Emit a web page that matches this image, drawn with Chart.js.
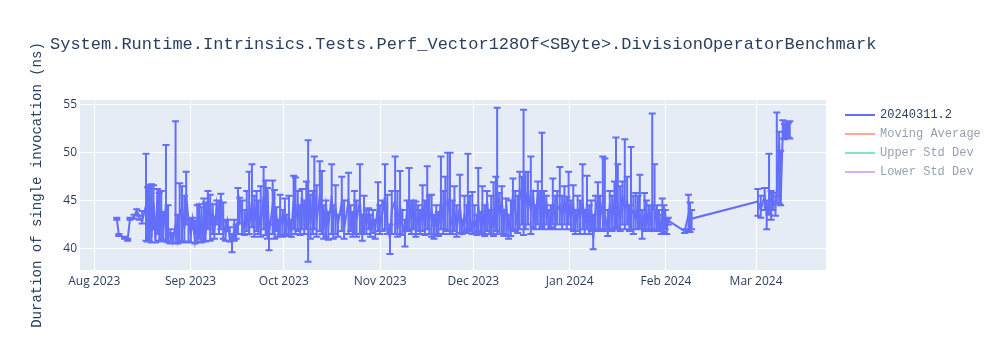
<!DOCTYPE html>
<html>
<head>
<meta charset="utf-8">
<script src="https://cdn.jsdelivr.net/npm/chart.js@4.4.1/dist/chart.umd.min.js"></script>
<style>
    body { margin: 0; background: #fff; }
    #wrap { position: relative; width: 1000px; height: 350px; }
    #title { position: absolute; left: 50px; top: 35px; line-height: 20px; font-size: 17px; font-family: 'Liberation Mono', monospace; color: #2a3f5f; white-space: pre; }
    #legend { position: absolute; left: 845px; top: 105px; font-size: 12px; font-family: 'Liberation Mono', monospace; color: #2a3f5f; }
    .item { height: 19px; display: flex; align-items: center; white-space: pre; }
    .swatch { width: 30px; height: 2px; margin-right: 5px; }
</style>
</head>
<body>
<div id="wrap">
    <canvas id="chart" width="1000" height="350"></canvas>
    <div id="title">System.Runtime.Intrinsics.Tests.Perf_Vector128Of&lt;SByte&gt;.DivisionOperatorBenchmark</div>
    <div id="legend"></div>
</div>
<script>
// Run times (local time, hour precision)
const runTimes = [
    '2023-08-08T06','2023-08-08T22','2023-08-10T18','2023-08-11T18','2023-08-12T12','2023-08-13T20','2023-08-14T16','2023-08-15T12','2023-08-16T10','2023-08-17T16',
    '2023-08-18T04','2023-08-18T18','2023-08-19T10','2023-08-20T02','2023-08-20T16','2023-08-21T08','2023-08-21T22','2023-08-22T14','2023-08-23T06','2023-08-24T02',
    '2023-08-24T18','2023-08-25T12','2023-08-26T06','2023-08-27T04','2023-08-27T20','2023-08-28T12','2023-08-29T06','2023-08-30T00','2023-08-30T14','2023-08-31T08',
    '2023-09-01T02','2023-09-01T16','2023-09-02T10','2023-09-03T04','2023-09-03T18','2023-09-04T12','2023-09-05T06','2023-09-05T20','2023-09-06T14','2023-09-07T08',
    '2023-09-08T02','2023-09-08T16','2023-09-09T10','2023-09-10T04','2023-09-10T18','2023-09-11T12','2023-09-12T06','2023-09-12T20','2023-09-13T14','2023-09-14T08',
    '2023-09-15T02','2023-09-15T16','2023-09-16T06','2023-09-16T20','2023-09-17T14','2023-09-18T08','2023-09-19T02','2023-09-19T20','2023-09-20T18','2023-09-21T12',
    '2023-09-22T06','2023-09-22T20','2023-09-23T14','2023-09-24T12','2023-09-25T04','2023-09-25T18','2023-09-26T06','2023-09-27T10','2023-09-28T00','2023-09-28T14',
    '2023-09-29T06','2023-09-29T20','2023-09-30T14',
    '2023-10-01T08','2023-10-01T22','2023-10-02T16','2023-10-03T10','2023-10-04T04','2023-10-04T18','2023-10-05T12','2023-10-06T06','2023-10-06T20','2023-10-07T14',
    '2023-10-08T06','2023-10-08T20','2023-10-09T14','2023-10-10T08','2023-10-10T20','2023-10-11T14','2023-10-12T14','2023-10-13T06','2023-10-13T20','2023-10-14T14',
    '2023-10-15T08','2023-10-16T10','2023-10-16T22','2023-10-17T16','2023-10-18T10','2023-10-19T16','2023-10-20T10','2023-10-21T20','2023-10-22T12','2023-10-23T04',
    '2023-10-23T18','2023-10-24T10','2023-10-25T12','2023-10-26T06','2023-10-26T20','2023-10-27T14','2023-10-28T08','2023-10-28T22','2023-10-29T16','2023-10-30T10',
    '2023-10-31T08','2023-10-31T22',
    '2023-11-01T16','2023-11-02T14','2023-11-03T08','2023-11-04T04','2023-11-04T18','2023-11-05T20','2023-11-06T14','2023-11-07T10','2023-11-08T04','2023-11-09T00',
    '2023-11-09T16','2023-11-10T08','2023-11-11T02','2023-11-11T18','2023-11-12T12','2023-11-13T06','2023-11-13T22','2023-11-14T16','2023-11-15T10','2023-11-16T04',
    '2023-11-16T20','2023-11-17T14','2023-11-18T08','2023-11-19T02','2023-11-19T18','2023-11-20T14','2023-11-21T08','2023-11-22T00','2023-11-22T18','2023-11-23T12',
    '2023-11-24T06','2023-11-24T22','2023-11-25T16','2023-11-26T16','2023-11-27T10','2023-11-28T04','2023-11-28T22','2023-11-29T06','2023-11-29T22','2023-11-30T16',
    '2023-12-01T10','2023-12-02T04','2023-12-02T14','2023-12-03T08','2023-12-03T22','2023-12-04T16','2023-12-05T10','2023-12-06T04','2023-12-06T18','2023-12-07T12',
    '2023-12-08T06','2023-12-08T16','2023-12-09T10','2023-12-10T04','2023-12-10T20','2023-12-11T14','2023-12-12T08','2023-12-13T02','2023-12-13T18','2023-12-14T12',
    '2023-12-15T06','2023-12-15T22','2023-12-16T16','2023-12-17T04','2023-12-17T20','2023-12-18T14','2023-12-19T12','2023-12-20T06','2023-12-21T00','2023-12-21T18',
    '2023-12-22T12','2023-12-23T02','2023-12-23T18','2023-12-24T12','2023-12-25T06','2023-12-25T22','2023-12-26T14','2023-12-27T08','2023-12-28T00','2023-12-28T20',
    '2023-12-29T14','2023-12-30T08','2023-12-31T02','2023-12-31T16',
    '2024-01-01T10','2024-01-02T04','2024-01-02T20','2024-01-03T14','2024-01-04T08','2024-01-05T04','2024-01-05T20','2024-01-06T14','2024-01-07T08','2024-01-08T00',
    '2024-01-08T14','2024-01-09T08','2024-01-10T02','2024-01-10T18','2024-01-11T16','2024-01-12T08','2024-01-13T06','2024-01-13T22','2024-01-14T16','2024-01-15T10',
    '2024-01-15T22','2024-01-16T12','2024-01-17T06','2024-01-18T00','2024-01-18T18','2024-01-19T12','2024-01-20T06','2024-01-20T18','2024-01-21T12','2024-01-22T06',
    '2024-01-23T00','2024-01-23T14','2024-01-24T08','2024-01-25T02','2024-01-25T18','2024-01-26T12','2024-01-27T06','2024-01-27T14','2024-01-28T08','2024-01-29T02',
    '2024-01-29T18','2024-01-30T12','2024-01-30T20','2024-01-31T08','2024-01-31T18',
    '2024-02-01T06','2024-02-01T18','2024-02-07T00','2024-02-08T06','2024-02-08T18','2024-02-09T06',
    '2024-03-01T14','2024-03-02T12','2024-03-03T18','2024-03-04T10','2024-03-05T04','2024-03-05T20','2024-03-06T12','2024-03-07T06','2024-03-07T16','2024-03-08T10',
    '2024-03-08T22','2024-03-09T14','2024-03-10T04','2024-03-10T18','2024-03-11T08','2024-03-11T20'
];

// Mean duration (ns)
const meanNs = [
    43.1,41.4,41.1,40.9,43.1,43.3,44.0,43.2,42.8,44.5,
    41.0,45.5,41.2,44.8,40.9,45.6,41.5,44.0,42.0,44.5,
    41.2,41.6,40.7,42.5,41.0,43.3,44.4,42.0,45.7,42.8,
    41.5,43.0,40.8,42.6,44.0,41.0,43.5,41.5,45.5,42.0,
    44.0,41.8,44.5,42.3,44.8,42.5,41.5,42.8,41.2,40.5,
    42.0,41.5,43.0,44.8,43.0,42.0,44.0,42.0,45.0,42.5,
    44.5,43.5,42.0,45.5,43.0,46.0,41.5,44.5,42.8,43.5,
    41.8,43.5,42.5,
    44.0,42.2,43.2,41.8,45.0,43.0,44.5,42.5,45.5,43.0,
    44.5,46.2,42.5,45.0,46.0,43.0,45.5,44.0,42.0,44.5,
    42.3,45.5,43.0,44.2,42.5,44.8,42.0,45.0,43.5,42.0,
    44.0,43.0,45.0,41.5,44.0,42.5,43.5,42.0,43.2,42.0,
    44.5,42.5,
    43.5,45.5,42.5,41.0,44.0,45.0,42.0,44.5,42.5,41.5,
    44.0,45.0,43.0,44.5,42.0,43.8,42.5,44.5,42.2,45.0,
    43.0,44.0,42.0,43.5,42.2,45.0,43.0,44.5,45.0,43.5,
    42.5,44.0,42.0,44.5,42.0,43.5,42.5,45.0,43.0,42.0,
    43.0,42.0,44.5,42.5,44.0,42.0,45.0,42.5,44.0,42.0,
    45.5,46.0,43.5,45.0,42.5,44.5,42.0,43.5,45.5,44.0,
    42.5,46.0,45.0,47.5,44.5,46.0,44.0,45.5,42.5,46.0,
    43.5,45.5,43.0,44.8,42.5,43.0,44.5,43.0,44.0,44.5,
    43.2,45.0,43.5,44.5,
    43.0,44.5,42.5,44.0,43.0,45.0,42.5,44.5,42.5,43.5,
    41.0,44.0,45.0,43.0,45.0,43.5,42.0,44.5,43.0,45.0,
    46.0,44.5,43.0,45.5,44.0,45.0,42.5,43.5,44.0,43.0,
    44.5,43.5,42.0,43.5,42.5,44.0,42.5,44.5,44.0,42.5,
    43.0,42.0,44.0,42.5,43.5,
    42.0,42.9,41.8,43.5,42.5,43.1,
    44.9,44.0,45.5,43.5,45.0,44.2,45.0,44.5,46.0,51.0,
    45.0,52.0,51.8,52.5,52.0,51.9
];

// Lower end of each error bar (ns)
const lowNs = [
    43.0,41.3,41.0,40.8,43.0,43.1,43.5,43.0,42.6,40.8,
    40.7,40.7,40.6,42.0,40.6,41.5,40.8,40.7,40.9,40.7,
    40.6,40.5,40.5,40.6,40.5,40.6,40.8,40.6,42.5,40.7,
    40.6,42.0,40.5,40.7,41.0,40.6,40.8,40.7,42.0,40.8,
    41.5,41.0,42.5,41.5,42.0,41.0,40.8,41.8,40.7,39.6,
    40.8,41.0,41.5,42.6,41.5,41.4,41.8,41.5,42.2,41.2,
    41.8,41.5,41.2,42.0,41.4,41.0,39.8,41.5,41.0,41.8,
    41.2,41.4,41.2,
    41.5,41.3,41.4,41.2,42.0,41.5,41.8,41.4,42.0,41.5,
    42.0,38.6,41.0,41.5,42.0,41.2,41.8,41.5,41.0,41.2,
    40.9,41.5,41.0,41.5,41.2,41.8,41.0,41.5,41.8,41.2,
    41.5,41.2,41.5,40.8,41.5,41.5,42.0,41.2,41.6,41.0,
    41.8,41.5,
    41.8,42.0,41.5,39.4,41.5,41.5,41.2,41.5,41.4,40.2,
    41.8,41.8,41.5,42.0,41.2,41.8,41.5,41.8,41.4,42.0,
    41.5,41.2,41.0,41.5,41.3,42.0,41.5,42.0,41.8,41.5,
    41.5,41.8,41.2,41.6,41.5,41.8,41.6,42.0,41.8,41.5,
    41.6,41.4,41.8,41.6,41.5,41.3,41.8,41.5,41.5,41.3,
    41.8,41.5,41.5,41.5,41.3,41.4,41.0,41.3,42.0,41.8,
    41.6,42.0,42.5,41.4,42.0,42.5,41.5,42.2,42.0,42.5,
    42.0,42.2,42.0,42.5,42.0,42.2,42.5,42.0,42.5,42.5,
    42.0,42.5,42.0,42.5,
    42.0,41.8,41.5,41.8,41.5,42.0,41.5,42.0,41.5,41.8,
    39.9,41.8,42.0,41.8,42.0,41.8,41.3,42.0,41.8,42.0,
    42.2,42.0,41.8,42.5,42.0,42.5,41.8,42.0,41.5,42.0,
    42.0,42.0,41.0,42.0,41.8,42.0,41.8,42.0,42.0,41.8,
    42.0,41.5,42.0,41.7,42.0,
    41.5,42.5,41.6,41.8,41.7,42.0,
    43.4,43.2,44.0,42.0,43.5,43.0,44.0,43.4,44.7,44.7,
    44.5,51.5,51.4,51.7,51.6,51.5
];

// Upper end of each error bar (ns)
const highNs = [
    43.2,41.5,41.2,41.0,43.2,43.5,44.1,43.4,43.9,49.9,
    46.4,46.6,46.7,46.6,42.5,46.2,45.8,46.0,43.8,50.8,
    44.5,42.0,41.6,53.3,43.5,46.8,46.5,45.5,48.0,43.1,
    43.0,43.2,42.9,44.5,44.6,44.3,45.2,44.8,46.0,45.6,
    44.6,43.3,45.0,45.0,45.7,44.8,42.8,43.0,42.2,41.5,
    43.0,42.5,46.3,45.3,45.0,44.0,46.0,48.0,48.8,45.5,
    46.0,45.0,46.5,48.5,47.1,46.3,42.5,47.1,46.1,44.3,
    43.0,45.6,44.0,
    45.2,43.5,45.5,43.0,47.6,47.4,46.0,44.5,46.2,45.0,
    47.0,51.3,45.6,46.0,49.6,46.6,49.1,48.1,44.5,45.0,
    43.8,48.8,44.5,46.6,43.5,47.5,45.0,47.9,44.5,43.8,
    46.0,45.0,48.8,43.5,45.5,44.0,44.2,43.5,44.0,43.0,
    46.9,44.5,
    45.0,48.8,45.6,42.5,46.0,49.6,46.0,48.1,44.0,43.0,
    45.0,48.4,45.0,45.0,44.9,44.5,44.0,46.6,45.0,48.6,
    45.5,45.6,43.5,44.5,43.8,49.6,46.0,47.5,50.0,50.0,
    45.0,46.5,44.5,47.7,43.0,45.5,44.5,49.9,45.5,45.9,
    44.5,43.5,48.4,43.8,46.5,44.5,46.0,44.0,45.5,46.9,
    47.5,54.7,45.8,46.5,44.0,45.2,43.5,45.0,47.3,46.0,
    45.5,48.0,47.5,54.5,48.0,48.0,49.6,46.0,44.5,47.0,
    46.0,52.1,46.0,45.5,44.0,44.5,47.3,45.5,46.0,48.5,
    45.5,46.5,45.4,48.0,
    45.0,46.6,44.0,45.5,45.0,48.8,44.0,47.6,44.5,45.0,
    43.5,45.5,46.9,45.5,49.6,49.4,44.0,46.0,45.5,47.0,
    51.6,48.8,46.5,47.0,51.4,47.5,44.5,50.6,45.5,45.8,
    45.5,47.7,44.0,45.8,45.0,44.5,44.5,54.1,48.8,44.5,
    44.0,43.5,45.2,44.5,44.0,
    43.0,43.2,42.0,45.6,44.8,44.0,
    46.2,45.5,46.3,45.0,49.9,46.0,45.8,45.5,54.2,52.2,
    50.2,53.4,53.0,53.3,53.1,53.3
];

// Axis ticks
const monthTicks = ['2023-08-01','2023-09-01','2023-10-01','2023-11-01','2023-12-01','2024-01-01','2024-02-01','2024-03-01'];
const monthLabels = ['Aug 2023','Sep 2023','Oct 2023','Nov 2023','Dec 2023','Jan 2024','Feb 2024','Mar 2024'];
const yTicks = [40, 45, 50, 55];

const seriesNames = ['20240311.2', 'Moving Average', 'Upper Std Dev', 'Lower Std Dev'];
const seriesColors = ['#636efa', '#EF553B', '#00cc96', '#ab63fa'];

const toTime = s => new Date(s + (s.length > 10 ? ':00' : 'T00:00')).getTime();
const times = runTimes.map(toTime);
const points = times.map((t, i) => ({ x: t, y: meanNs[i] }));

// Plot background
const plotBg = {
    id: 'plotBg',
    beforeDraw(chart) {
        const { ctx, chartArea: a } = chart;
        ctx.save();
        ctx.fillStyle = '#E5ECF6';
        ctx.fillRect(a.left, a.top, a.width, a.height);
        ctx.restore();
    }
};

// Error bars for the main series
const errorBars = {
    id: 'errorBars',
    afterDatasetsDraw(chart) {
        const { ctx, chartArea: a, scales: { x, y } } = chart;
        ctx.save();
        ctx.beginPath();
        ctx.rect(a.left, a.top, a.width, a.height);
        ctx.clip();
        ctx.strokeStyle = seriesColors[0];
        ctx.lineWidth = 2;
        ctx.beginPath();
        times.forEach((t, i) => {
            const px = x.getPixelForValue(t);
            const top = y.getPixelForValue(highNs[i]);
            const bot = y.getPixelForValue(lowNs[i]);
            ctx.moveTo(px, top); ctx.lineTo(px, bot);
            ctx.moveTo(px - 3.5, top); ctx.lineTo(px + 3.5, top);
            ctx.moveTo(px - 3.5, bot); ctx.lineTo(px + 3.5, bot);
        });
        ctx.stroke();
        ctx.restore();
    }
};

const tickFont = { family: "'Open Sans', sans-serif", size: 12 };

const chart = new Chart(document.getElementById('chart').getContext('2d'), {
    type: 'line',
    data: {
        datasets: seriesNames.map((name, i) => ({
            label: name,
            data: i === 0 ? points : [],
            borderColor: seriesColors[i],
            borderWidth: 2,
            pointRadius: 0,
            tension: 0,
            fill: false,
            hidden: i !== 0
        }))
    },
    options: {
        responsive: false,
        animation: false,
        layout: { padding: { left: 0, right: 174, top: 100, bottom: 0 } },
        plugins: { legend: { display: false }, title: { display: false }, tooltip: { enabled: false } },
        scales: {
            x: {
                type: 'linear',
                min: toTime('2023-07-27T10'),
                max: toTime('2024-03-23T12'),
                afterBuildTicks: s => { s.ticks = monthTicks.map(d => ({ value: toTime(d) })); },
                afterFit: s => { s.height = 80; },
                ticks: { callback: (v, i) => monthLabels[i], font: tickFont, color: '#2a3f5f', padding: 4, maxRotation: 0, autoSkip: false },
                grid: { color: '#ffffff', lineWidth: 1, drawTicks: false },
                border: { display: false }
            },
            y: {
                min: 37.73,
                max: 55.52,
                afterBuildTicks: s => { s.ticks = yTicks.map(v => ({ value: v })); },
                afterFit: s => { s.width = 80; },
                ticks: { font: tickFont, color: '#2a3f5f', padding: 3 },
                grid: { color: '#ffffff', lineWidth: 1, drawTicks: false },
                border: { display: false },
                title: {
                    display: true,
                    text: 'Duration of single invocation (ns)',
                    font: { family: "'Liberation Mono', monospace", size: 14 },
                    color: '#2a3f5f',
                    padding: { top: 29, bottom: 0 }
                }
            }
        }
    },
    plugins: [plotBg, errorBars]
});

// Legend built from the datasets (hidden ones faded, as in the source)
const legend = document.getElementById('legend');
chart.data.datasets.forEach(ds => {
    const row = document.createElement('div');
    row.className = 'item';
    if (ds.hidden) row.style.opacity = 0.5;
    row.innerHTML = `<span class="swatch" style="background:${ds.borderColor}"></span>${ds.label}`;
    legend.appendChild(row);
});
</script>
</body>
</html>
